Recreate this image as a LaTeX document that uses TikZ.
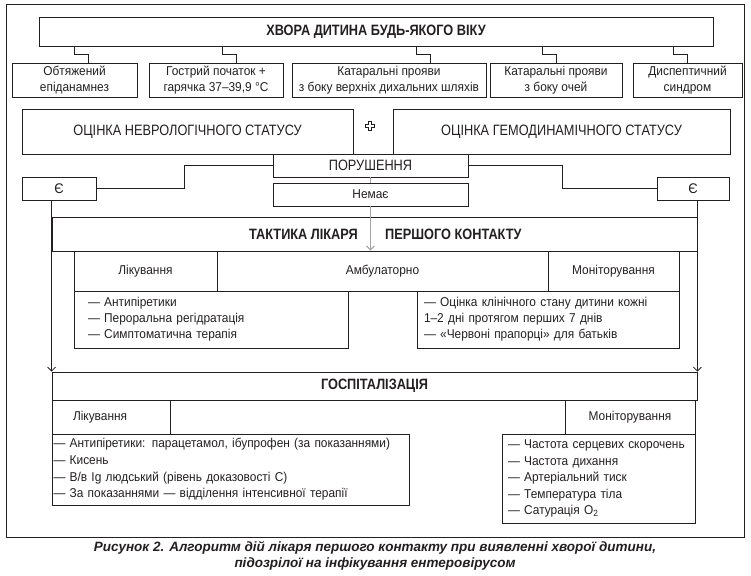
\documentclass[tikz,border=0pt]{standalone}
\usepackage{fontspec}
\setmainfont{Liberation Sans}
\newfontfamily\condfont[FakeStretch=0.85]{Liberation Sans}
\newfontfamily\bodyfont[FakeStretch=0.93]{Liberation Sans}
\usetikzlibrary{arrows.meta, calc}
\definecolor{palink}{RGB}{35,31,32}
\definecolor{palgray}{RGB}{165,165,165}
\tikzset{
  box/.style={
    draw=palink,
    line width=0.8pt,
    inner sep=0pt,
    align=center,
    font=\bodyfont\fontsize{12.8}{16}\selectfont,
    text=palink
  },
  titlebox/.style={box, font=\condfont\fontsize{15}{18}\selectfont},
  boldbox/.style={box, font=\condfont\bfseries\fontsize{15}{18}\selectfont},
  boldtext/.style={inner sep=0pt, font=\condfont\bfseries\fontsize{15}{18}\selectfont, text=palink},
  listbox/.style={box, align=left},
  sz/.style 2 args={minimum width=#1, minimum height=#2},
  line/.style={draw=palink, line width=0.8pt},
  arrow/.style={line, -{Straight Barb[length=4pt, width=8pt]}},
  grayline/.style={draw=palgray, line width=1pt},
  grayarrow/.style={grayline, -{Straight Barb[length=4pt, width=8pt]}}
}
\begin{document}
\begin{tikzpicture}[x=1pt, y=-1pt]
  \useasboundingbox (0,0) rectangle (751,575);
  \draw[line] (6,4) rectangle (744,537);

  % signs
  \node[boldbox, sz={674}{29}] (child) at (376,31.5) {ХВОРА ДИТИНА БУДЬ-ЯКОГО ВІКУ};
  \node[box, sz={125}{34}] (sign1) at (74.5,80) {Обтяжений\\епіданамнез};
  \node[box, sz={134}{34}] (sign2) at (216,80) {Гострий початок +\\гарячка 37–39,9 °C};
  \node[box, sz={194}{34}] (sign3) at (389,80) {Катаральні прояви\\з боку верхніх дихальних шляхів};
  \node[box, sz={132}{34}] (sign4) at (556,80) {Катаральні прояви\\з боку очей};
  \node[box, sz={109}{34}] (sign5) at (687.5,80) {Диспептичний\\синдром};
  \foreach \n/\xa/\xb in {sign1/74/88, sign2/222/236, sign3/416/430, sign4/542/556, sign5/673/687}
    \draw[line] (child.south -| \xa,0) -- ++(0,8) -| (\n.north -| \xb,0);

  % status
  \node[titlebox, sz={331}{45}] (neuro) at (187.5,131.5) {ОЦІНКА НЕВРОЛОГІЧНОГО СТАТУСУ};
  \node[titlebox, sz={337}{45}] (hemo) at (561.5,131.5) {ОЦІНКА ГЕМОДИНАМІЧНОГО СТАТУСУ};
  \coordinate (plus) at (370,126);
  \draw[line, line width=0.7pt, line join=miter] (plus) ++(-1.6,-4.2) -- ++(3.2,0) -- ++(0,2.6) -- ++(2.6,0) -- ++(0,3.2)
    -- ++(-2.6,0) -- ++(0,2.6) -- ++(-3.2,0) -- ++(0,-2.6) -- ++(-2.6,0) -- ++(0,-3.2) -- ++(2.6,0) -- cycle;
  \node[titlebox, sz={195}{23}] (poru) at (370.5,165.5) {ПОРУШЕННЯ};
  \node[box, sz={195}{23}] (nemae) at (370.5,194.5) {Немає};
  \node[box, sz={74}{23}, font=\bodyfont\fontsize{14}{16}\selectfont] (yesL) at (59,188.5) {Є};
  \node[box, sz={72}{23}, font=\bodyfont\fontsize{14}{16}\selectfont] (yesR) at (693,188.5) {Є};
  \draw[line] (yesL.east) -| ($(yesL.east)!.5!(poru.west)$) |- (poru.west);
  \draw[line] (yesR.west) -| ($(yesR.west)!.5!(poru.east)$) |- (poru.east);

  % ambulatory
  \node[box, sz={645}{34}] (takt) at (374.5,234) {};
  \node[boldtext, anchor=east] (takt1) at (358,234) {ТАКТИКА ЛІКАРЯ};
  \node[boldtext, anchor=west] (takt2) at (385,234) {ПЕРШОГО КОНТАКТУ};
  \node[box, sz={143}{40}] (treat1) at (145.5,271) {Лікування};
  \node[box, sz={331}{40}] (amb) at (382.5,271) {Амбулаторно};
  \node[box, sz={131}{40}] (mon1) at (613.5,271) {Моніторування};
  \node[listbox, sz={274}{57}, inner xsep=14pt, text width=246pt] (list1) at (211,319.5)
    {— Антипіретики\\— Пероральна регідратація\\— Симптоматична терапія};
  \node[listbox, sz={262}{57}, inner xsep=7pt, text width=248pt] (list2) at (548,319.5)
    {— Оцінка клінічного стану дитини кожні\\1–2 дні протягом перших 7 днів\\— «Червоні прапорці» для батьків};
  \draw[grayline] (poru) -- (nemae);
  \draw[grayarrow] (nemae.south) -- (nemae.south |- amb.north);

  % hospital
  \node[boldbox, sz={645}{28}] (hosp) at (374.5,386) {ГОСПІТАЛІЗАЦІЯ};
  \draw[arrow] (yesL.south -| takt.west) -- (hosp.north west);
  \draw[arrow] (yesR.south -| takt.east) -- (hosp.north east);
  \node[listbox, sz={118}{34}, inner xsep=21pt, text width=76pt] (treat2) at (111,417) {Лікування};
  \node[box, sz={130}{34}] (mon2) at (630,417) {Моніторування};
  \node[listbox, sz={357}{71}, inner xsep=1.5pt, text width=354pt, font=\bodyfont\fontsize{12.8}{16.7}\selectfont] (list3) at (230.5,469.5)
    {— Антипіретики: парацетамол, ібупрофен (за показаннями)\\— Кисень\\— В/в Ig людський (рівень доказовості С)\\— За показаннями — відділення інтенсивної терапії};
  \node[listbox, sz={193}{89}, inner xsep=6pt, text width=181pt, font=\bodyfont\fontsize{12.8}{16.5}\selectfont] (list4) at (598.5,478.5)
    {— Частота серцевих скорочень\\— Частота дихання\\— Артеріальний тиск\\— Температура тіла\\— Сатурація O\textsubscript{2}};

  \node[align=center, text=palink, font=\bfseries\itshape\fontsize{13.5}{16}\selectfont] (caption) at (375,556)
    {Рисунок 2. Алгоритм дій лікаря першого контакту при виявленні хворої дитини,\\підозрілої на інфікування ентеровірусом};
\end{tikzpicture}
\end{document}
